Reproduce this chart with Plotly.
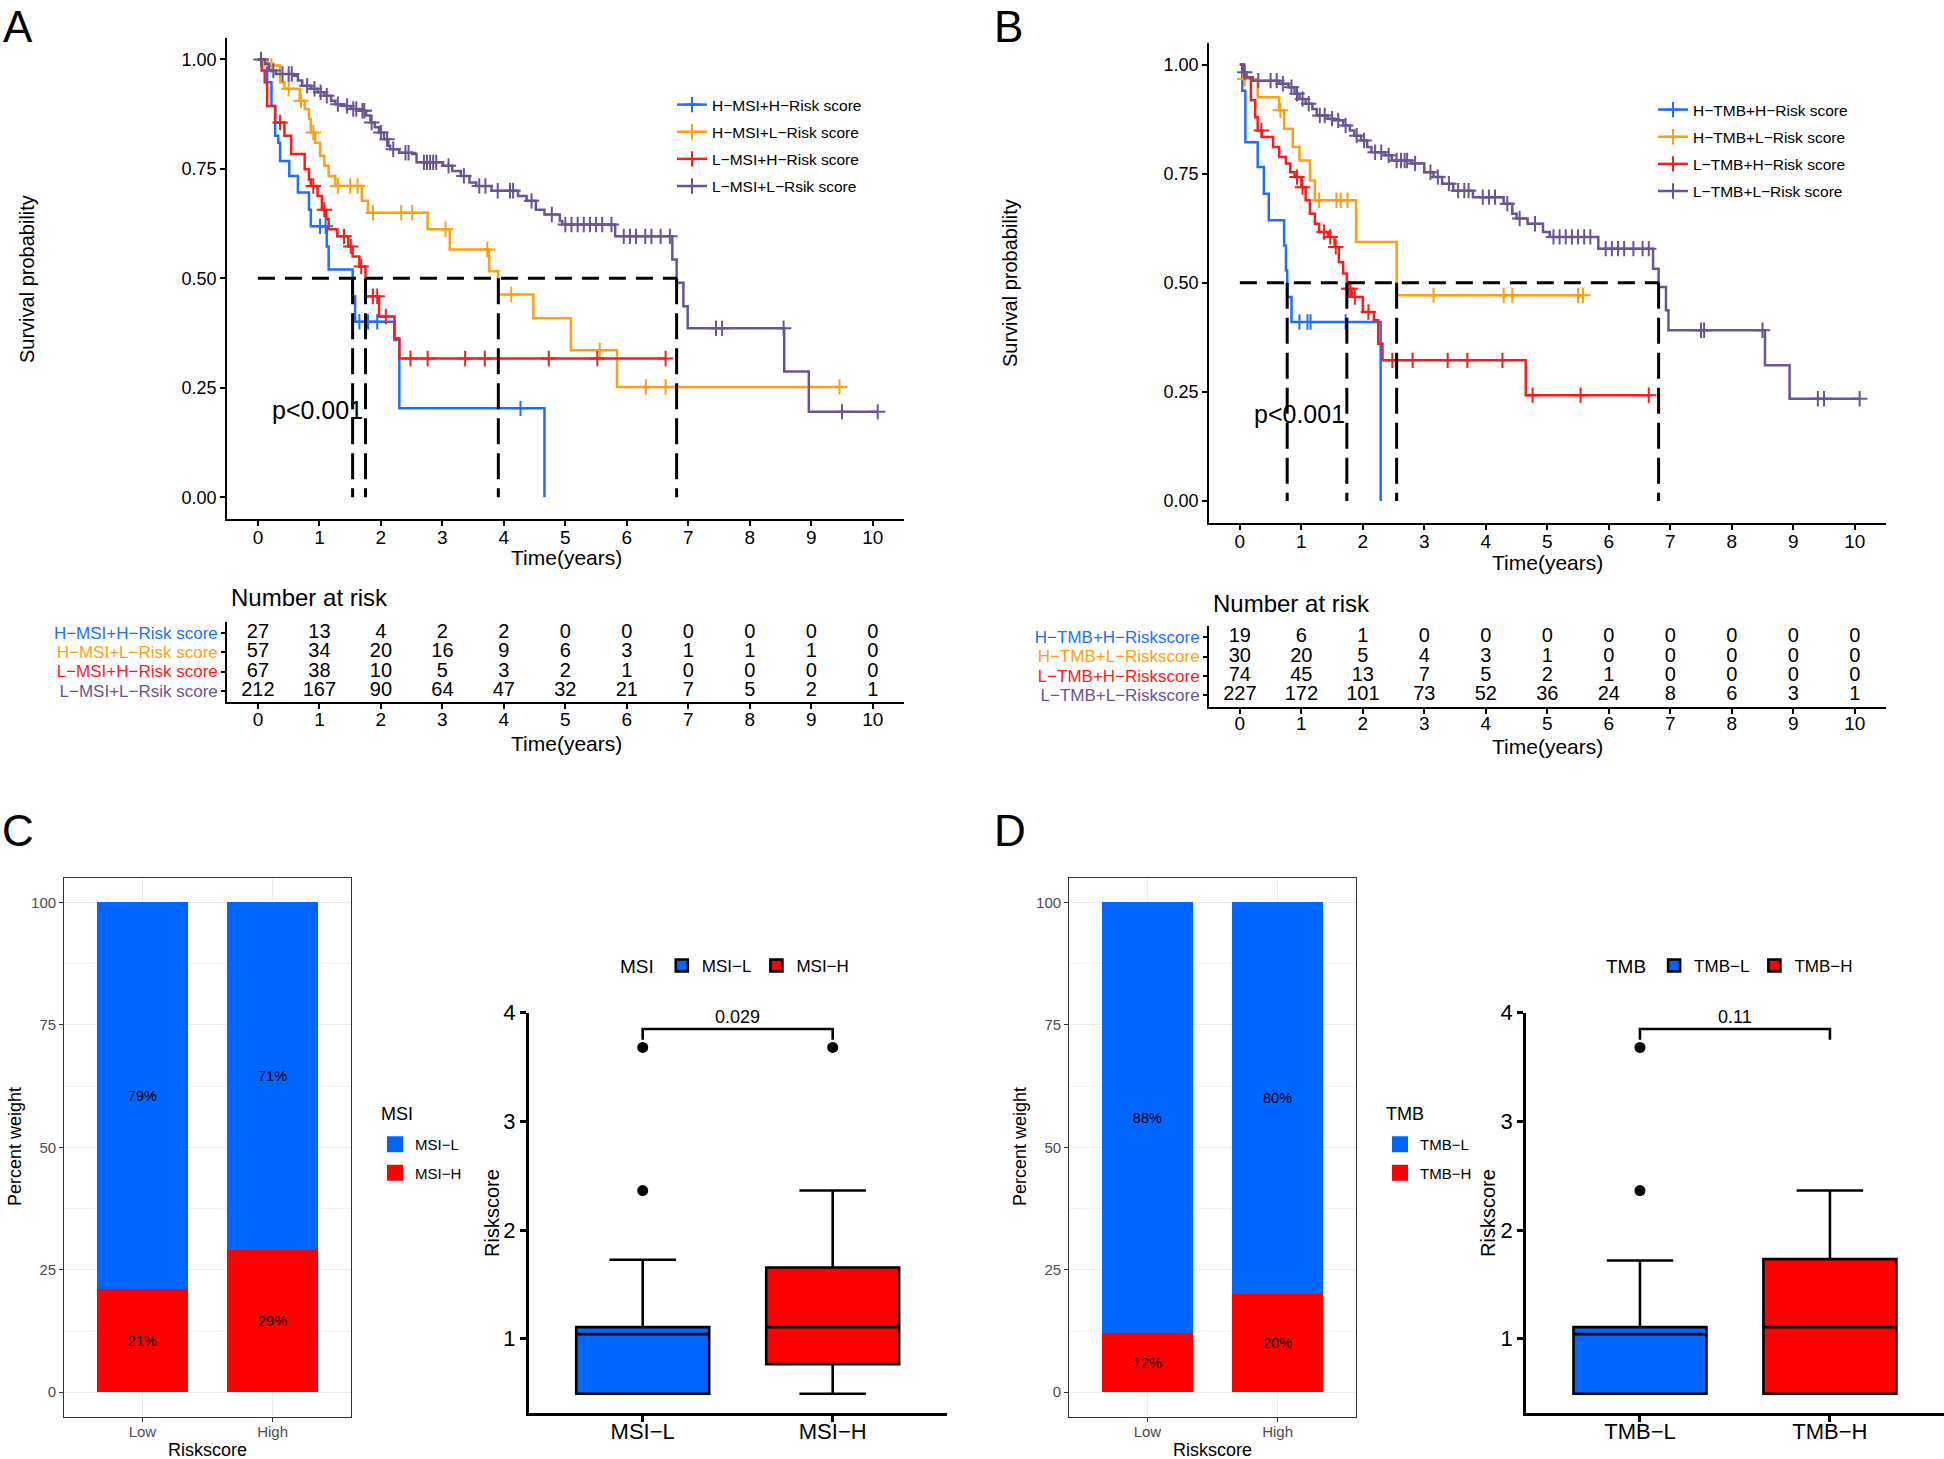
import plotly.graph_objects as go

W, H = 1944, 1459
FONT = "Arial, 'Liberation Sans', Helvetica, sans-serif"

# ---------------- colours ----------------
C_BLUE, C_ORANGE, C_RED, C_PURPLE = "#1E6FFF", "#FFA010", "#FF1A1A", "#6A5499"
KM_COLORS = [C_BLUE, C_ORANGE, C_RED, C_PURPLE]
BAR_BLUE, BAR_RED = "#0066FF", "#FF0000"

# ---------------- Panel A : KM by MSI / risk ----------------
a_names = ["H−MSI+H−Risk score", "H−MSI+L−Risk score", "L−MSI+H−Risk score", "L−MSI+L−Rsik score"]

a_blue_t = [0.15, 0.22, 0.28, 0.33, 0.36, 0.51, 0.65, 0.83, 0.86, 1.12, 1.15, 1.54, 1.58, 2.22, 2.30, 4.66]
a_blue_s = [0.948, 0.894, 0.826, 0.81, 0.768, 0.734, 0.696, 0.657, 0.619, 0.573, 0.52, 0.459, 0.401, 0.359, 0.203, 0.0]
a_blue_c = [1.01, 1.10, 1.65, 1.79, 1.94, 4.27]

a_orange_t = [0.15, 0.36, 0.43, 0.68, 0.76, 0.83, 0.86, 0.93, 1.01, 1.08, 1.15, 1.26, 1.69, 1.79, 2.76, 3.12, 3.76, 3.91, 4.48, 5.09, 5.84]
a_orange_s = [0.986, 0.948, 0.933, 0.906, 0.887, 0.864, 0.833, 0.81, 0.78, 0.757, 0.734, 0.711, 0.677, 0.65, 0.612, 0.566, 0.516, 0.463, 0.409, 0.336, 0.252]
a_orange_c = [0.22, 0.50, 0.70, 0.90, 1.30, 1.50, 1.62, 1.87, 2.33, 2.51, 3.05, 3.73, 4.12, 5.56, 6.31, 6.63, 9.46]

a_red_t = [0.06, 0.11, 0.15, 0.28, 0.43, 0.54, 0.76, 0.83, 0.86, 0.97, 1.04, 1.11, 1.15, 1.29, 1.47, 1.54, 1.65, 1.75, 1.97, 2.22, 2.30]
a_red_s = [0.975, 0.948, 0.894, 0.856, 0.826, 0.784, 0.749, 0.726, 0.711, 0.688, 0.657, 0.635, 0.612, 0.596, 0.573, 0.55, 0.527, 0.459, 0.413, 0.363, 0.317]
a_red_c = [0.36, 0.90, 1.08, 1.40, 1.51, 1.68, 1.87, 1.94, 2.08, 2.48, 2.76, 3.37, 3.69, 4.73, 5.52, 6.63]

a_purple_t = [0.11, 0.18, 0.29, 0.58, 0.65, 0.72, 0.86, 0.97, 1.08, 1.19, 1.26, 1.40, 1.51, 1.65, 1.76,
              1.83, 1.90, 1.97, 2.05, 2.12, 2.15, 2.30, 2.51, 2.58, 3.01, 3.16, 3.30, 3.44, 3.55, 3.80,
              4.23, 4.37, 4.52, 4.66, 4.91, 4.95, 5.81, 6.74, 6.81, 6.92, 6.99, 8.56, 8.96]
a_purple_s = [0.990, 0.975, 0.967, 0.963, 0.952, 0.940, 0.933, 0.925, 0.917, 0.906, 0.898, 0.894, 0.887, 0.883, 0.872,
              0.856, 0.845, 0.833, 0.818, 0.803, 0.795, 0.787, 0.784, 0.765, 0.757, 0.745, 0.734, 0.719, 0.711, 0.700,
              0.688, 0.677, 0.657, 0.646, 0.631, 0.623, 0.596, 0.543, 0.490, 0.436, 0.386, 0.287, 0.195]
a_purple_c = [0.05, 0.25, 0.40, 0.50, 0.55, 0.80, 0.92, 1.02, 1.12, 1.30, 1.45, 1.55, 1.60, 1.70, 1.73, 1.85,
              2.00, 2.10, 2.20, 2.40, 2.45, 2.70, 2.75, 2.80, 2.85, 2.90, 3.10, 3.35, 3.60, 3.70, 3.90, 4.10,
              4.15, 4.45, 4.78, 5.00, 5.10, 5.20, 5.30, 5.40, 5.50, 5.60, 5.75, 5.95, 6.05, 6.15, 6.30, 6.40,
              6.55, 6.70, 7.45, 7.55, 8.55, 9.50, 10.08]
a_medians = [1.54, 3.91, 1.75, 6.81]

a_risk_times = list(range(11))
a_risk_blue = [27, 13, 4, 2, 2, 0, 0, 0, 0, 0, 0]
a_risk_orange = [57, 34, 20, 16, 9, 6, 3, 1, 1, 1, 0]
a_risk_red = [67, 38, 10, 5, 3, 2, 1, 0, 0, 0, 0]
a_risk_purple = [212, 167, 90, 64, 47, 32, 21, 7, 5, 2, 1]

# ---------------- Panel B : KM by TMB / risk ----------------
b_names = ["H−TMB+H−Risk score", "H−TMB+L−Risk score", "L−TMB+H−Risk score", "L−TMB+L−Risk score"]
b_table_names = ["H−TMB+H−Riskscore", "H−TMB+L−Riskscore", "L−TMB+H−Riskscore", "L−TMB+L−Riskscore"]

b_blue_t = [0.04, 0.09, 0.29, 0.39, 0.47, 0.72, 0.75, 0.77, 0.84, 2.29]
b_blue_s = [0.940, 0.822, 0.765, 0.704, 0.643, 0.585, 0.528, 0.467, 0.410, 0.0]
b_blue_c = [0.97, 1.10, 1.15, 1.72]

b_orange_t = [0.06, 0.29, 0.64, 0.72, 0.86, 0.97, 1.14, 1.22, 1.89, 2.55]
b_orange_s = [0.967, 0.925, 0.895, 0.853, 0.811, 0.78, 0.734, 0.689, 0.593, 0.471]
b_orange_c = [0.08, 0.66, 1.29, 1.57, 1.64, 1.75, 3.15, 4.29, 4.43, 5.50, 5.58]

b_red_t = [0.07, 0.18, 0.25, 0.29, 0.36, 0.54, 0.64, 0.75, 0.82, 0.89, 1.00, 1.07, 1.14, 1.22, 1.29, 1.43,
           1.54, 1.61, 1.68, 1.74, 1.82, 2.00, 2.18, 2.25, 2.32, 4.65]
b_red_s = [0.971, 0.918, 0.879, 0.849, 0.834, 0.811, 0.788, 0.773, 0.753, 0.742, 0.719, 0.689, 0.658, 0.635, 0.616, 0.605,
           0.582, 0.547, 0.521, 0.486, 0.467, 0.433, 0.414, 0.36, 0.322, 0.242]
b_red_c = [0.35, 0.93, 1.02, 1.37, 1.47, 1.56, 1.77, 1.80, 1.87, 2.09, 2.48, 2.81, 3.38, 3.70, 4.27, 4.76, 5.54, 6.65]

b_purple_t = [0.04, 0.11, 0.21, 0.64, 0.79, 0.89, 0.97, 1.07, 1.18, 1.25, 1.43, 1.54, 1.68, 1.79, 1.86,
              1.97, 2.07, 2.14, 2.36, 2.47, 2.79, 3.00, 3.15, 3.29, 3.47, 3.79, 4.29, 4.43, 4.50, 4.68,
              4.93, 5.04, 5.83, 6.72, 6.81, 6.93, 6.97, 8.54, 8.94]
b_purple_s = [0.982, 0.971, 0.963, 0.956, 0.948, 0.933, 0.921, 0.910, 0.898, 0.883, 0.876, 0.872, 0.860, 0.849, 0.837,
              0.826, 0.811, 0.799, 0.792, 0.780, 0.773, 0.753, 0.742, 0.727, 0.711, 0.696, 0.681, 0.658, 0.647, 0.635,
              0.616, 0.605, 0.578, 0.532, 0.490, 0.437, 0.391, 0.311, 0.234]
b_purple_c = [0.08, 0.30, 0.50, 0.60, 0.70, 0.84, 0.93, 1.02, 1.12, 1.30, 1.38, 1.50, 1.60, 1.72, 1.90, 2.02,
              2.20, 2.30, 2.42, 2.55, 2.62, 2.68, 2.72, 2.85, 3.10, 3.22, 3.40, 3.55, 3.65, 3.72, 3.95, 4.05,
              4.15, 4.35, 4.55, 4.80, 5.10, 5.20, 5.30, 5.40, 5.50, 5.60, 5.70, 5.95, 6.05, 6.15, 6.25, 6.40,
              6.55, 6.65, 7.50, 7.55, 8.50, 9.40, 9.50, 10.08]
b_medians = [0.77, 2.55, 1.74, 6.81]

b_risk_times = list(range(11))
b_risk_blue = [19, 6, 1, 0, 0, 0, 0, 0, 0, 0, 0]
b_risk_orange = [30, 20, 5, 4, 3, 1, 0, 0, 0, 0, 0]
b_risk_red = [74, 45, 13, 7, 5, 2, 1, 0, 0, 0, 0]
b_risk_purple = [227, 172, 101, 73, 52, 36, 24, 8, 6, 3, 1]

# ---------------- Panels C / D : stacked bars ----------------
bar_cats = ["Low", "High"]
msi_groups = ["MSI−L", "MSI−H"]
msi_pct_L = [79, 71]
msi_pct_H = [21, 29]
tmb_groups = ["TMB−L", "TMB−H"]
tmb_pct_L = [88, 80]
tmb_pct_H = [12, 20]

# ---------------- Panels C / D : boxplots ----------------
msi_box_q1 = [0.494, 0.767]
msi_box_med = [1.043, 1.107]
msi_box_q3 = [1.107, 1.656]
msi_box_lo = [0.494, 0.494]
msi_box_hi = [1.727, 2.364]
msi_out_L = [2.364, 3.68]
msi_out_H = [3.68]
msi_p = "0.029"
msi_bracket = [3.75, 3.85]

tmb_box_q1 = [0.494, 0.494]
tmb_box_med = [1.043, 1.107]
tmb_box_q3 = [1.107, 1.733]
tmb_box_lo = [0.494, 0.494]
tmb_box_hi = [1.72, 2.364]
tmb_out_L = [2.364, 3.68]
tmb_out_H = []
tmb_p = "0.11"
tmb_bracket = [3.75, 3.85]


# ================= helpers =================
def px(x):
    return x / W


def py(y):
    return 1 - y / H


def step_value(ts, ss, t):
    v = 1.0
    for ti, si in zip(ts, ss):
        if ti <= t:
            v = si
        else:
            break
    return v


traces = []


def km_group(ts, ss, cens, color, name, xa, ya, legend):
    end = max([ts[-1]] + list(cens))
    x = [0.0] + list(ts) + [end]
    y = [1.0] + list(ss) + [ss[-1]]
    traces.append(go.Scatter(x=x, y=y, mode="lines", line=dict(color=color, width=2.5, shape="hv"),
                             xaxis=xa, yaxis=ya, showlegend=False, hoverinfo="skip"))
    traces.append(go.Scatter(x=list(cens), y=[step_value(ts, ss, c) for c in cens], mode="markers",
                             marker=dict(symbol="cross-thin", size=11, color=color, line=dict(width=2, color=color)),
                             xaxis=xa, yaxis=ya, showlegend=False, hoverinfo="skip"))
    traces.append(go.Scatter(x=[None], y=[None], mode="lines+markers", name=name, legend=legend,
                             legendgroup=legend + name,
                             line=dict(color=color, width=2.5),
                             marker=dict(symbol="cross-thin", size=11, color=color, line=dict(width=2, color=color)),
                             xaxis=xa, yaxis=ya))


a_sets = [(a_blue_t, a_blue_s, a_blue_c), (a_orange_t, a_orange_s, a_orange_c),
          (a_red_t, a_red_s, a_red_c), (a_purple_t, a_purple_s, a_purple_c)]
for (t, s, c), col, nm in zip(a_sets, KM_COLORS, a_names):
    km_group(t, s, c, col, nm, "x", "y", "legend")

b_sets = [(b_blue_t, b_blue_s, b_blue_c), (b_orange_t, b_orange_s, b_orange_c),
          (b_red_t, b_red_s, b_red_c), (b_purple_t, b_purple_s, b_purple_c)]
for (t, s, c), col, nm in zip(b_sets, KM_COLORS, b_names):
    km_group(t, s, c, col, nm, "x3", "y3", "legend2")

# risk tables
row_pos = [4, 3, 2, 1]
for vals, r in zip([a_risk_blue, a_risk_orange, a_risk_red, a_risk_purple], row_pos):
    traces.append(go.Scatter(x=a_risk_times, y=[r] * len(vals), mode="text", text=[str(v) for v in vals],
                             textfont=dict(size=20, color="black", family=FONT), xaxis="x2", yaxis="y2",
                             showlegend=False, hoverinfo="skip"))
for vals, r in zip([b_risk_blue, b_risk_orange, b_risk_red, b_risk_purple], row_pos):
    traces.append(go.Scatter(x=b_risk_times, y=[r] * len(vals), mode="text", text=[str(v) for v in vals],
                             textfont=dict(size=20, color="black", family=FONT), xaxis="x4", yaxis="y4",
                             showlegend=False, hoverinfo="skip"))


# bars
def bar_pair(groups, pl, ph, xa, ya, legend):
    traces.append(go.Bar(x=bar_cats, y=ph, name=groups[1], marker=dict(color=BAR_RED, line=dict(width=0)),
                         width=0.7, text=[f"{v}%" for v in ph], textposition="inside", insidetextanchor="middle",
                         textangle=0, textfont=dict(size=14.5, color="black", family=FONT),
                         xaxis=xa, yaxis=ya, showlegend=False, hoverinfo="skip"))
    traces.append(go.Bar(x=bar_cats, y=pl, name=groups[0], marker=dict(color=BAR_BLUE, line=dict(width=0)),
                         width=0.7, text=[f"{v}%" for v in pl], textposition="inside", insidetextanchor="middle",
                         textangle=0, textfont=dict(size=14.5, color="black", family=FONT),
                         xaxis=xa, yaxis=ya, showlegend=False, hoverinfo="skip"))
    # legend keys (filled squares like ggplot keys)
    for g, col in zip(groups, [BAR_BLUE, BAR_RED]):
        traces.append(go.Scatter(x=[None], y=[None], mode="markers", name=g, legend=legend,
                                 legendgroup=legend + g,
                                 marker=dict(symbol="square", size=16, color=col, line=dict(width=0)),
                                 xaxis=xa, yaxis=ya))


bar_pair(msi_groups, msi_pct_L, msi_pct_H, "x5", "y5", "legend3")
bar_pair(tmb_groups, tmb_pct_L, tmb_pct_H, "x7", "y7", "legend5")


# boxes
def box_pair(groups, q1, med, q3, lo, hi, outL, outH, xa, ya, legend):
    for i, (g, col) in enumerate(zip(groups, [BAR_BLUE, BAR_RED])):
        traces.append(go.Box(x=[g], q1=[q1[i]], median=[med[i]], q3=[q3[i]], lowerfence=[lo[i]],
                             upperfence=[hi[i]], name=g, fillcolor=col, width=0.7,
                             line=dict(color="black", width=2.6), boxpoints=False,
                             xaxis=xa, yaxis=ya, legend=legend, hoverinfo="skip"))
    for g, outs in zip(groups, [outL, outH]):
        if outs:
            traces.append(go.Scatter(x=[g] * len(outs), y=outs, mode="markers",
                                     marker=dict(color="black", size=11, symbol="circle"),
                                     xaxis=xa, yaxis=ya, showlegend=False, hoverinfo="skip"))


box_pair(msi_groups, msi_box_q1, msi_box_med, msi_box_q3, msi_box_lo, msi_box_hi, msi_out_L, msi_out_H,
         "x6", "y6", "legend4")
box_pair(tmb_groups, tmb_box_q1, tmb_box_med, tmb_box_q3, tmb_box_lo, tmb_box_hi, tmb_out_L, tmb_out_H,
         "x8", "y8", "legend6")

fig = go.Figure(data=traces)


# ================= axes =================
def km_xaxis(x0, x1, anchor, standoff):
    return dict(domain=[px(x0), px(x1)], anchor=anchor, range=[-0.5, 10.5], tickmode="array",
                tickvals=list(range(11)),
                showline=True, linecolor="black", linewidth=2, ticks="outside", ticklen=5, tickwidth=2,
                tickcolor="black", showgrid=False, zeroline=False, tickfont=dict(size=19, color="black"),
                ticklabelstandoff=standoff, fixedrange=True)


def km_yaxis(y0, y1, anchor):
    return dict(domain=[py(y1), py(y0)], anchor=anchor, range=[-0.05, 1.05], tickmode="array",
                tickvals=[0, 0.25, 0.5, 0.75, 1.0], ticktext=["0.00", "0.25", "0.50", "0.75", "1.00"],
                showline=True, linecolor="black", linewidth=2, ticks="outside", ticklen=5, tickwidth=2,
                tickcolor="black", showgrid=False, zeroline=False, tickfont=dict(size=18, color="black"))


def table_yaxis(y0, y1, names, anchor):
    return dict(domain=[py(y1), py(y0)], anchor=anchor, range=[0.4, 4.6], tickmode="array", tickvals=row_pos,
                ticktext=[f'<span style="color:{c}">{n}</span>' for c, n in zip(KM_COLORS, names)],
                showline=True, linecolor="black", linewidth=2, ticks="outside", ticklen=4, tickwidth=2,
                tickcolor="black", showgrid=False, zeroline=False, tickfont=dict(size=17))


def bar_axes(x0, x1, y0, y1, xn, yn):
    xa = dict(domain=[px(x0), px(x1)], anchor=yn, type="category", categoryorder="array", categoryarray=bar_cats,
              range=[-0.6, 1.6], showgrid=True, gridcolor="#EBEBEB", gridwidth=1.4, showline=True, mirror=True,
              linecolor="#333333", linewidth=1.3, ticks="outside", ticklen=4, tickcolor="#333333",
              tickfont=dict(size=15, color="#4D4D4D"), ticklabelstandoff=-3, zeroline=False)
    ya = dict(domain=[py(y1), py(y0)], anchor=xn, range=[-5, 105], tickmode="array", tickvals=[0, 25, 50, 75, 100],
              showgrid=True, gridcolor="#EBEBEB", gridwidth=1.4, showline=True, mirror=True,
              linecolor="#333333", linewidth=1.3, ticks="outside", ticklen=4, tickcolor="#333333",
              tickfont=dict(size=15, color="#4D4D4D"), zeroline=False,
              minor=dict(tickvals=[12.5, 37.5, 62.5, 87.5], showgrid=True, gridcolor="#F2F2F2", gridwidth=0.8))
    return xa, ya


def box_axes(x0, x1, y0, y1, groups, xn, yn):
    xa = dict(domain=[px(x0), px(x1)], anchor=yn, type="category", categoryorder="array", categoryarray=groups,
              range=[-0.6, 1.6], showgrid=False, showline=True, linecolor="black", linewidth=2.6,
              ticks="outside", ticklen=6, tickwidth=2.6, tickcolor="black", ticklabelstandoff=-9,
              tickfont=dict(size=22, color="black"), zeroline=False)
    ya = dict(domain=[py(y1), py(y0)], anchor=xn, range=[0.32, 4.0], tickmode="array", tickvals=[1, 2, 3, 4],
              showgrid=False, showline=True, linecolor="black", linewidth=2.6, ticks="outside", ticklen=6,
              tickwidth=2.6, tickcolor="black", tickfont=dict(size=22, color="black"), zeroline=False)
    return xa, ya


xa5, ya5 = bar_axes(64.3, 350.7, 878, 1416.7, "x5", "y5")
xa7, ya7 = bar_axes(1069.3, 1355.7, 878, 1416.7, "x7", "y7")
xa6, ya6 = box_axes(528.7, 946.7, 1012.7, 1412.7, msi_groups, "x6", "y6")
xa8, ya8 = box_axes(1526, 1943.9, 1012.7, 1412.7, tmb_groups, "x8", "y8")

layout = dict(
    width=W, height=H, margin=dict(l=0, r=0, t=0, b=0, pad=0, autoexpand=False),
    paper_bgcolor="white", plot_bgcolor="white",
    font=dict(family=FONT, color="black"),
    barmode="stack", boxmode="overlay", hovermode=False,
    xaxis=km_xaxis(227.2, 903.5, "y", -5), yaxis=km_yaxis(37.6, 519.1, "x"),
    xaxis2=km_xaxis(227.2, 903.5, "y2", -6), yaxis2=table_yaxis(622, 702, a_names, "x2"),
    xaxis3=km_xaxis(1209.1, 1885.5, "y3", -5), yaxis3=km_yaxis(42.7, 522.7, "x3"),
    xaxis4=km_xaxis(1209.1, 1885.5, "y4", -6), yaxis4=table_yaxis(625.8, 706.5, b_table_names, "x4"),
    xaxis5=xa5, yaxis5=ya5, xaxis6=xa6, yaxis6=ya6, xaxis7=xa7, yaxis7=ya7, xaxis8=xa8, yaxis8=ya8,
    legend=dict(x=px(672), y=py(88), xanchor="left", yanchor="top", font=dict(size=15.5),
                tracegroupgap=4, bgcolor="rgba(0,0,0,0)", traceorder="grouped"),
    legend2=dict(x=px(1653), y=py(93), xanchor="left", yanchor="top", font=dict(size=15.5),
                 tracegroupgap=4, bgcolor="rgba(0,0,0,0)", traceorder="grouped"),
    legend3=dict(x=px(375), y=py(1128), xanchor="left", yanchor="top", font=dict(size=15),
                 tracegroupgap=6, bgcolor="rgba(0,0,0,0)", traceorder="grouped"),
    legend5=dict(x=px(1380), y=py(1128), xanchor="left", yanchor="top", font=dict(size=15),
                 tracegroupgap=6, bgcolor="rgba(0,0,0,0)", traceorder="grouped"),
    legend4=dict(x=px(618), y=py(966), xanchor="left", yanchor="middle", orientation="h",
                 font=dict(size=17), title=dict(text="MSI", side="left", font=dict(size=19)),
                 bgcolor="rgba(0,0,0,0)", traceorder="normal"),
    legend6=dict(x=px(1604), y=py(966), xanchor="left", yanchor="middle", orientation="h",
                 font=dict(size=17), title=dict(text="TMB", side="left", font=dict(size=19)),
                 bgcolor="rgba(0,0,0,0)", traceorder="normal"),
)
fig.update_layout(**layout)

# ================= shapes (median lines, brackets) =================
shapes = []
for meds, xr, yr in [(a_medians, "x", "y"), (b_medians, "x3", "y3")]:
    shapes.append(dict(type="line", xref=xr, yref=yr, x0=0, x1=max(meds), y0=0.5, y1=0.5,
                       line=dict(color="black", width=3, dash="17px,10px")))
    for m in meds:
        shapes.append(dict(type="line", xref=xr, yref=yr, x0=m, x1=m, y0=0.5, y1=0,
                           line=dict(color="black", width=3, dash="26px,9px")))
for br, xr, yr in [(msi_bracket, "x6", "y6"), (tmb_bracket, "x8", "y8")]:
    shapes.append(dict(type="path", xref=xr, yref=yr,
                       path=f"M 0,{br[0]} L 0,{br[1]} L 1,{br[1]} L 1,{br[0]}",
                       line=dict(color="black", width=2.6)))
fig.update_layout(shapes=shapes)

# ================= annotations =================
ann = []


def add_text(text, x, y, size, xanchor="center", yanchor="middle", angle=0, color="black", xref="paper",
             yref="paper"):
    ann.append(dict(text=text, x=x, y=y, xref=xref, yref=yref, xanchor=xanchor, yanchor=yanchor,
                    showarrow=False, textangle=angle, font=dict(size=size, color=color, family=FONT)))


# panel letters
add_text("A", px(18), py(0), 44, yanchor="top")
add_text("B", px(1008), py(0), 44, yanchor="top")
add_text("C", px(18), py(830), 44)
add_text("D", px(1010), py(830), 44)

# KM axis titles
add_text("Survival probability", px(27), py(279), 20, angle=-90)
add_text("Survival probability", px(1010), py(283), 20, angle=-90)
add_text("Time(years)", px(566), py(558), 21)
add_text("Time(years)", px(1547), py(562), 21)
# p values
add_text("p<0.001", 0.2, 0.2, 25, xanchor="left", xref="x", yref="y")
add_text("p<0.001", 0.2, 0.2, 25, xanchor="left", xref="x3", yref="y3")
# risk tables
add_text("Number at risk", px(229), py(598), 24, xanchor="left")
add_text("Number at risk", px(1211), py(603), 24, xanchor="left")
add_text("Time(years)", px(566), py(743), 21)
add_text("Time(years)", px(1547), py(746), 21)
# bar chart titles and legend titles
add_text("Percent weight", px(15), py(1147), 18, angle=-90)
add_text("Riskscore", px(207), py(1450), 18)
add_text("Percent weight", px(1020), py(1147), 18, angle=-90)
add_text("Riskscore", px(1212), py(1450), 18)
add_text("MSI", px(379), py(1114), 18, xanchor="left")
add_text("TMB", px(1384), py(1114), 18, xanchor="left")
# box titles and p
add_text("Riskscore", px(492), py(1213), 20, angle=-90)
add_text("Riskscore", px(1488), py(1213), 20, angle=-90)
add_text(msi_p, 0.5, msi_bracket[1], 18, yanchor="bottom", xref="x6", yref="y6")
add_text(tmb_p, 0.5, tmb_bracket[1], 18, yanchor="bottom", xref="x8", yref="y8")
fig.update_layout(annotations=ann)

fig.write_html("out.html", config=dict(displayModeBar=False),
               post_script="document.body.style.margin='0px';document.body.style.overflow='hidden';")
